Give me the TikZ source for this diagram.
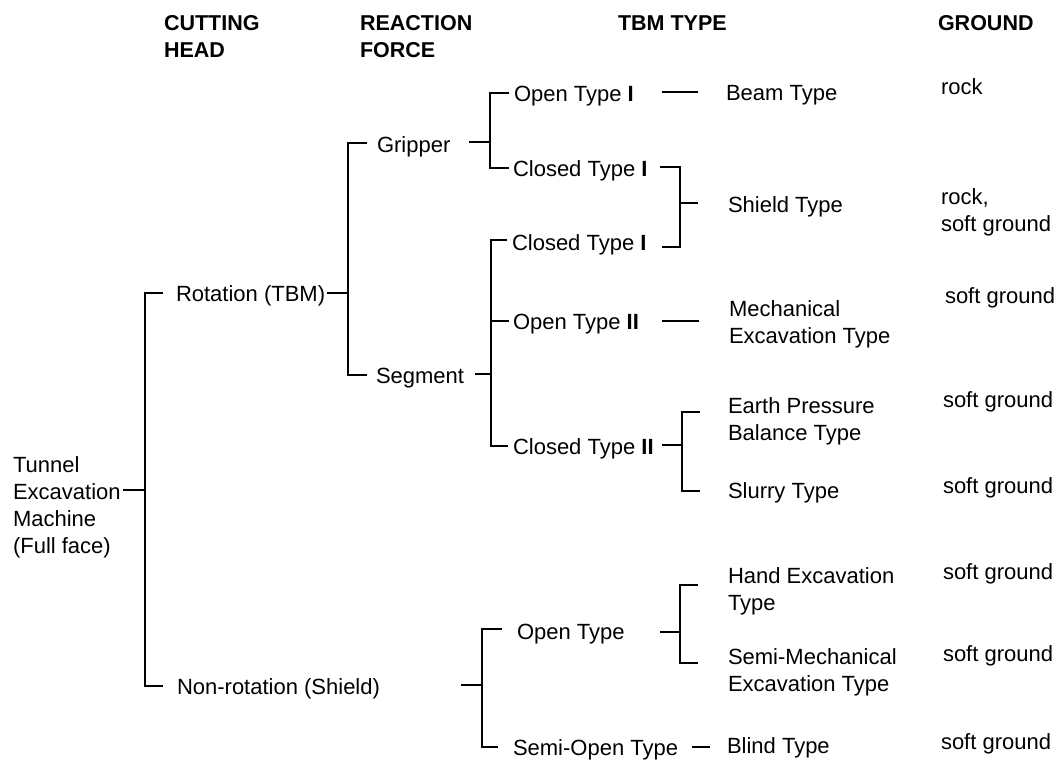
\documentclass[tikz,border=0pt]{standalone}
\usepackage{fontspec}
\setmainfont{Liberation Sans}
\begin{document}
\begin{tikzpicture}[x=1pt,y=-1pt,
  lbl/.style={anchor=west,inner sep=0pt,outer sep=0pt,text height=16pt,text depth=0pt,font=\fontsize{22}{27}\selectfont},
  mlbl/.style={anchor=west,inner sep=0pt,outer sep=0pt,align=left,font=\fontsize{22}{27}\selectfont},
  head/.style={anchor=west,inner sep=0pt,outer sep=0pt,align=left,font=\fontsize{21.5}{27}\selectfont\bfseries},
  conn/.style={line width=1.8pt,line cap=butt,line join=miter}]
\useasboundingbox (0,0) rectangle (1064,760);
% headers
\node[head] (hCut) at (164,36.5) {CUTTING\\HEAD};
\node[head] (hReact) at (360,36.5) {REACTION\\FORCE};
\node[head] (hTbm) at (618,23) {TBM TYPE};
\node[head] (hGround) at (938,23) {GROUND};
% tree nodes
\node[mlbl] (root) at (13,507) {Tunnel\\Excavation\\Machine\\(Full face)};
\node[lbl] (rot) at (176,293) {Rotation (TBM)};
\node[lbl] (nonrot) at (177,686) {Non-rotation (Shield)};
\node[lbl] (grip) at (377,144) {Gripper};
\node[lbl] (seg) at (376,375) {Segment};
\node[lbl] (ot1) at (514,93) {Open Type \textbf{I}};
\node[lbl] (ct1a) at (513,168) {Closed Type \textbf{I}};
\node[lbl] (ct1b) at (512,242) {Closed Type \textbf{I}};
\node[lbl] (ot2) at (513,321) {Open Type \textbf{II}};
\node[lbl] (ct2) at (513,446) {Closed Type \textbf{II}};
\node[lbl] (ot) at (517,631) {Open Type};
\node[lbl] (sot) at (513,747) {Semi-Open Type};
\node[lbl] (beam) at (726,92) {Beam Type};
\node[lbl] (shield) at (728,204) {Shield Type};
\node[mlbl] (mech) at (729,324) {Mechanical\\Excavation Type};
\node[mlbl] (epb) at (728,421) {Earth Pressure\\Balance Type};
\node[lbl] (slurry) at (728,490) {Slurry Type};
\node[mlbl] (hand) at (728,591) {Hand Excavation\\Type};
\node[mlbl] (semimech) at (728,672) {Semi-Mechanical\\Excavation Type};
\node[lbl] (blind) at (727,745) {Blind Type};
% ground column
\node[lbl] (g1) at (941,86) {rock};
\node[mlbl] (g2) at (941,212) {rock,\\soft ground};
\node[lbl] (g3) at (945,295) {soft ground};
\node[lbl] (g4) at (943,399) {soft ground};
\node[lbl] (g5) at (943,485) {soft ground};
\node[lbl] (g6) at (943,571) {soft ground};
\node[lbl] (g7) at (943,653) {soft ground};
\node[lbl] (g8) at (941,741) {soft ground};
% connector points
\coordinate (rootE) at (123,490);
\coordinate (aTop) at (163,293); \coordinate (aBot) at (163,686);
\coordinate (rotE) at (327,293);
\coordinate (bTop) at (367,143); \coordinate (bBot) at (367,375);
\coordinate (gripE) at (469,142);
\coordinate (cTop) at (509,93); \coordinate (cBot) at (509,168);
\coordinate (ot1E) at (662,92); \coordinate (beamW) at (698,92);
\coordinate (ct1aE) at (660,167); \coordinate (ct1bE) at (662,247);
\coordinate (shieldW) at (698,203);
\coordinate (segE) at (475,374);
\coordinate (dTop) at (507,240); \coordinate (dMid) at (509,321); \coordinate (dBot) at (508,446);
\coordinate (ot2E) at (662,321); \coordinate (mechW) at (699,321);
\coordinate (ct2E) at (662,445);
\coordinate (eTop) at (700,412); \coordinate (eBot) at (700,491);
\coordinate (nonrotE) at (461,685);
\coordinate (fTop) at (502,629); \coordinate (fBot) at (498,747);
\coordinate (otE) at (660,632);
\coordinate (hTop) at (698,585); \coordinate (hBot) at (698,663);
\coordinate (sotE) at (692,747); \coordinate (blindW) at (710,747);
% connectors
\draw[conn] (rootE) -- (145,490);
\draw[conn] (aTop) -- (145,293) -- (145,686) -- (aBot);
\draw[conn] (rotE) -- (348,293);
\draw[conn] (bTop) -- (348,143) -- (348,375) -- (bBot);
\draw[conn] (gripE) -- (490,142);
\draw[conn] (cTop) -- (490,93) -- (490,168) -- (cBot);
\draw[conn] (ot1E) -- (beamW);
\draw[conn] (ct1aE) -- (680,167) -- (680,247) -- (ct1bE);
\draw[conn] (680,203) -- (shieldW);
\draw[conn] (segE) -- (491,374);
\draw[conn] (dTop) -- (491,240) -- (491,446) -- (dBot);
\draw[conn] (491,321) -- (dMid);
\draw[conn] (ot2E) -- (mechW);
\draw[conn] (ct2E) -- (682,445);
\draw[conn] (eTop) -- (682,412) -- (682,491) -- (eBot);
\draw[conn] (nonrotE) -- (481,685);
\draw[conn] (fTop) -- (482,629) -- (482,747) -- (fBot);
\draw[conn] (otE) -- (680,632);
\draw[conn] (hTop) -- (680,585) -- (680,663) -- (hBot);
\draw[conn] (sotE) -- (blindW);
\end{tikzpicture}
\end{document}
